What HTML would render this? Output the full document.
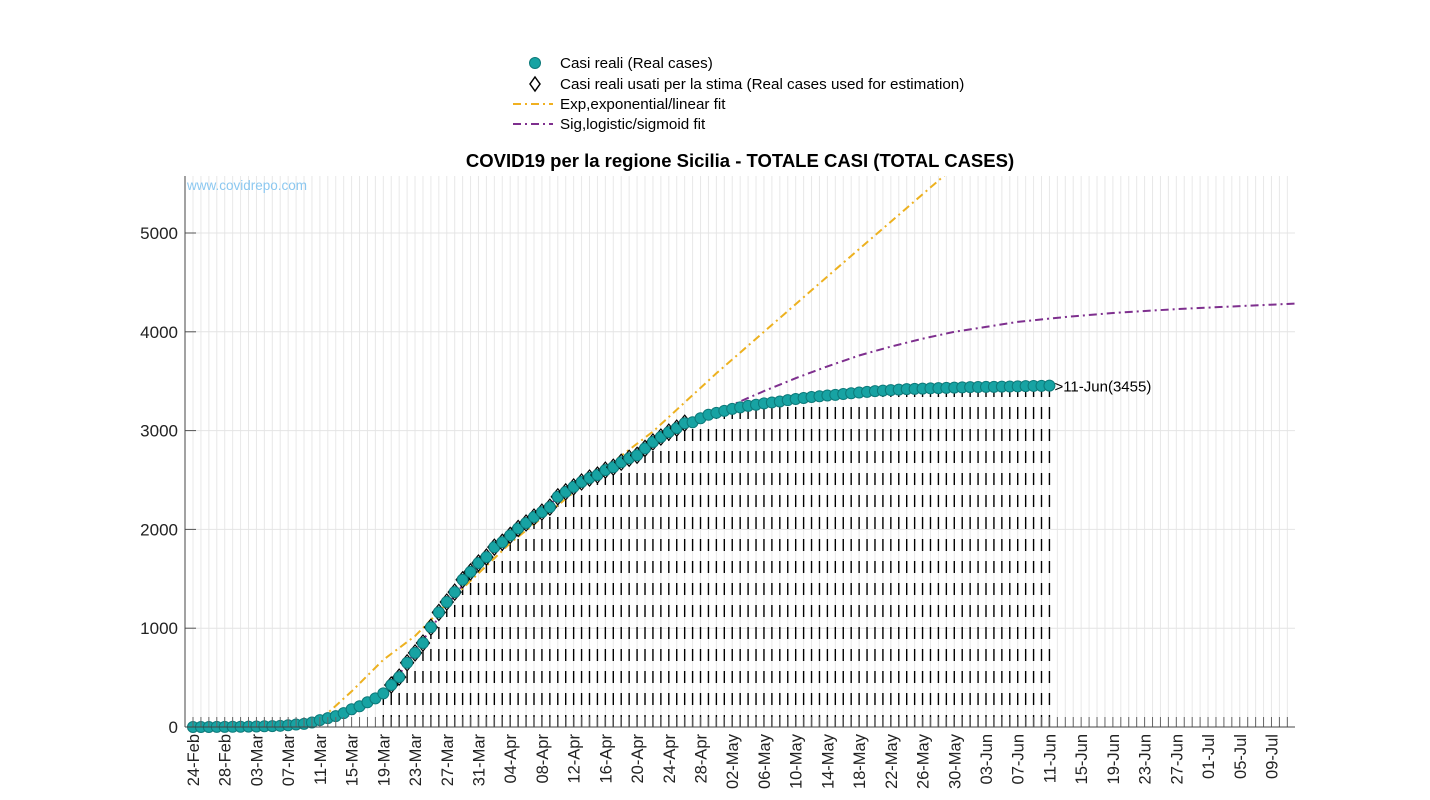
<!DOCTYPE html>
<html><head><meta charset="utf-8"><style>
body{margin:0;background:#fff;}
svg{display:block;font-family:"Liberation Sans",Arial,sans-serif;}
</style></head><body>
<svg id="chart" width="1430" height="800" xmlns="http://www.w3.org/2000/svg">
<g>
  <circle cx="535" cy="63" r="5.5" fill="#17a3a3" stroke="#0d7a7a"/>
  <text x="560" y="68" font-size="15.2">Casi reali (Real cases)</text>
  <path d="M535 77 L540 84 L535 91 L530 84 Z" fill="none" stroke="#000" stroke-width="1.5"/>
  <text x="560" y="89" font-size="15.2">Casi reali usati per la stima (Real cases used for estimation)</text>
  <line x1="513" y1="104" x2="553" y2="104" stroke="#f0b020" stroke-width="2" stroke-dasharray="8,4,2,4"/>
  <text x="560" y="109" font-size="15.2">Exp,exponential/linear fit</text>
  <line x1="513" y1="124" x2="553" y2="124" stroke="#7e2f8e" stroke-width="2" stroke-dasharray="8,4,2,4"/>
  <text x="560" y="129" font-size="15.2">Sig,logistic/sigmoid fit</text>
</g>
<text x="740" y="167" font-size="18.5" font-weight="bold" text-anchor="middle">COVID19 per la regione Sicilia - TOTALE CASI (TOTAL CASES)</text>
<g id="grid"></g>
<g id="stems"></g>
<g id="fits"></g>
<g id="marks"></g>
<g id="axes"></g>
<text x="187" y="190" font-size="13.5" fill="#8cc8f0">www.covidrepo.com</text>
</svg>
<script>
const startLabels=["24-Feb","28-Feb","03-Mar","07-Mar","11-Mar","15-Mar","19-Mar","23-Mar","27-Mar","31-Mar","04-Apr","08-Apr","12-Apr","16-Apr","20-Apr","24-Apr","28-Apr","02-May","06-May","10-May","14-May","18-May","22-May","26-May","30-May","03-Jun","07-Jun","11-Jun","15-Jun","19-Jun","23-Jun","27-Jun","01-Jul","05-Jul","09-Jul"];
const yTicks=[0,1000,2000,3000,4000,5000];
const cases=[0,0,0,1,1,2,3,4,5,7,9,12,18,25,32,45,70,90,110,140,180,210,250,290,340,425,505,650,750,850,1010,1160,1265,1365,1490,1570,1660,1720,1820,1870,1940,2010,2065,2125,2175,2225,2330,2380,2430,2480,2520,2550,2600,2630,2680,2720,2750,2820,2885,2935,2985,3025,3075,3085,3125,3160,3180,3200,3220,3235,3250,3262,3275,3285,3295,3308,3320,3330,3340,3348,3355,3362,3370,3378,3385,3392,3400,3405,3410,3415,3420,3422,3425,3428,3430,3432,3435,3437,3440,3441,3442,3443,3445,3446,3448,3450,3452,3453,3455];
const estStart=25, estEnd=62;
const expDays=[14,16,20,24,28,32,40,50,58,66,80,95,100];
const expVals=[0,70,360,680,920,1250,1860,2500,2990,3580,4560,5600,5950];
const sigDays=[12,16,20,24,28,32,36,40,44,48,52,56,60,64,68,72,76,80,84,88,92,96,100,104,110,116,124,132,139];
const sigVals=[0,60,120,300,760,1230,1640,1950,2200,2430,2600,2780,2960,3130,3260,3400,3530,3650,3760,3850,3930,4000,4050,4100,4150,4190,4230,4260,4285];
const NS="http://www.w3.org/2000/svg";
const X0=193,DX=7.93,Y0=727,SY=0.0988,LEFT=185,RIGHT=1295,TOP=176;
const xs=d=>X0+d*DX, ys=v=>Y0-v*SY;
function mk(p,t,a){const e=document.createElementNS(NS,t);for(const k in a)e.setAttribute(k,a[k]);p.appendChild(e);return e;}
const grid=document.getElementById('grid'),stems=document.getElementById('stems'),fits=document.getElementById('fits'),marks=document.getElementById('marks'),axes=document.getElementById('axes');
for(let d=0;xs(d)<RIGHT;d++){
  const g=mk(grid,'line',{x1:xs(d),x2:xs(d),y1:TOP,y2:Y0,stroke:'#e8e8e8','stroke-width':1});
  
  
  const t=mk(axes,'line',{x1:xs(d),x2:xs(d),y1:Y0,y2:Y0-10,stroke:'#666','stroke-width':1});
  
  
}
yTicks.forEach(v=>{
  const g=mk(grid,'line',{x1:LEFT,x2:RIGHT,y1:ys(v),y2:ys(v),stroke:'#e4e4e4','stroke-width':1});
  
  
  const t=mk(axes,'line',{x1:LEFT,x2:LEFT+11,y1:ys(v),y2:ys(v),stroke:'#555'});
  
  
  const l=mk(axes,'text',{x:LEFT-7,y:ys(v)+6,'font-size':17,'text-anchor':'end',fill:'#222'});
  l.textContent=v;
  
  
});
startLabels.forEach((s,i)=>{
  const d=i*4,x=xs(d)+6;
  const l=mk(axes,'text',{x:x,y:734,'font-size':16.5,'text-anchor':'end',fill:'#222',transform:`rotate(-90 ${x} 734)`});
  l.textContent=s;
  
  
});
mk(axes,'line',{x1:LEFT,x2:LEFT,y1:TOP,y2:Y0,stroke:'#444'});
mk(axes,'line',{x1:LEFT,x2:RIGHT,y1:Y0,y2:Y0,stroke:'#444'});
cases.forEach((v,d)=>{
  if(d>=24){
    const s=mk(stems,'line',{x1:xs(d),x2:xs(d),y1:Y0,y2:ys(v),stroke:'#000','stroke-width':1.4,'stroke-dasharray':'12,10'});
    
    
  }
});
const cp=mk(document.getElementById('chart'),'clipPath',{id:'pc'});mk(cp,'rect',{x:LEFT,y:TOP,width:RIGHT-LEFT,height:Y0-TOP});
fits.setAttribute('clip-path','url(#pc)');
function poly(dd,vv,color,name){
  let p='';dd.forEach((d,i)=>{p+=(i?'L':'M')+xs(d).toFixed(1)+' '+ys(vv[i]).toFixed(1);});
  const e=mk(fits,'path',{d:p,fill:'none',stroke:color,'stroke-width':2,'stroke-dasharray':'8,4,2,4'});
  
  
}
poly(expDays,expVals,'#edb120','exp-fit-line');
cases.forEach((v,d)=>{
  const x=xs(d),y=ys(v);
  if(d>=estStart&&d<=estEnd){
    const dm=mk(marks,'path',{d:`M${x} ${y-8}L${x+6.5} ${y}L${x} ${y+8}L${x-6.5} ${y}Z`,fill:'#fff',stroke:'#000','stroke-width':1.2});
    
    
  }
  const c=mk(marks,'circle',{cx:x,cy:y,r:5.5,fill:'#17a3a3',stroke:'#0d7a7a','stroke-width':1});
  
  
});
poly(sigDays,sigVals,'#7e2f8e','sig-fit-line');
const last=cases.length-1;
const an=mk(marks,'text',{x:xs(last)+5,y:ys(cases[last])+6,'font-size':15});
an.textContent='>11-Jun('+cases[last]+')';


</script>
</body></html>
